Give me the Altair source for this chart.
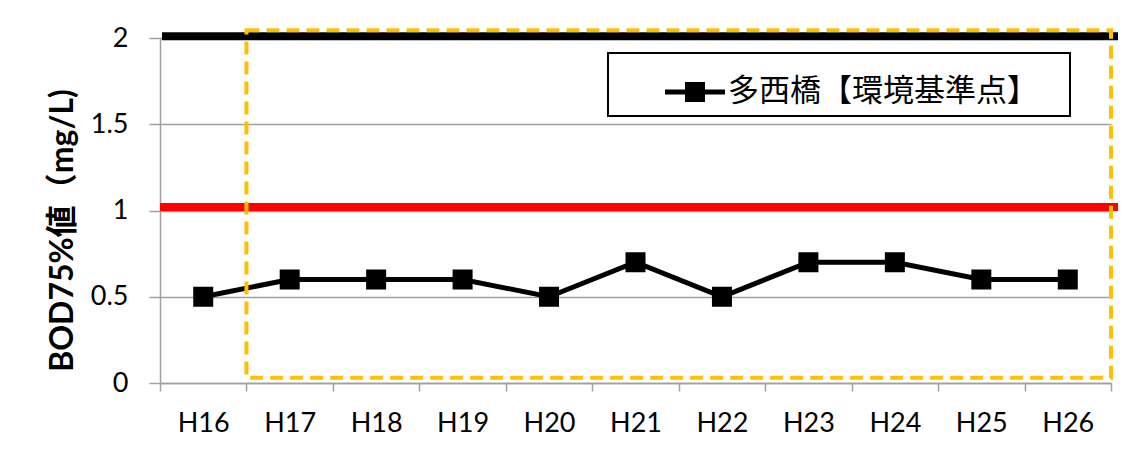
import altair as alt
import pandas as pd

# ---- data ----
years = ["H16", "H17", "H18", "H19", "H20", "H21", "H22", "H23", "H24", "H25", "H26"]
bod = [0.5, 0.6, 0.6, 0.6, 0.5, 0.7, 0.5, 0.7, 0.7, 0.6, 0.6]
series_name = "多西橋【環境基準点】"
y_ticks = [0, 0.5, 1, 1.5, 2]
ref_black = [2.01]
ref_red = [1.02]
# highlighted period box (category index range, value range)
box_x0 = [1]
box_x1 = [11]
box_y0 = [0.03]
box_y1 = [2.045]

df = pd.DataFrame({"year": years, "bod": bod, "series": [series_name] * len(years)})
df_black = pd.DataFrame({"v": ref_black})
df_red = pd.DataFrame({"v": ref_red})
df_box = pd.DataFrame({"x0": box_x0, "x1": box_x1, "y0": box_y0, "y1": box_y1})

W, H = 951, 345
GRAY = "#A0A0A0"
LABEL_FONT = "Lato"
CJK = "Noto Sans CJK JP"

xscale = alt.Scale(type="band", domain=years, paddingInner=0, paddingOuter=0)
yscale = alt.Scale(domain=[0, 2], nice=False)

x_axis = alt.Axis(tickBand="extent", labelAngle=0, tickSize=8, labelPadding=19,
                  grid=False, domainColor=GRAY, tickColor=GRAY, domainWidth=1.5, tickWidth=1.5)
y_enc = alt.Y(
    "bod:Q", scale=yscale,
    axis=alt.Axis(values=y_ticks, format="~g", grid=True, gridColor=GRAY, gridWidth=1.5,
                  tickSize=11, labelPadding=21, domainColor=GRAY, tickColor=GRAY,
                  domainWidth=1.5, tickWidth=1.5,
                  title="BOD75%値（mg/L)", titleFont=LABEL_FONT + ", " + CJK,
                  titleFontSize=32, titleFontWeight="bold", titleColor="black",
                  titleAngle=270, titleX=-98, titleY=192, titleAlign="center",
                  titleBaseline="middle"),
)

line = alt.Chart(df).mark_line(color="black", strokeWidth=5).encode(
    x=alt.X("year:N", scale=xscale, sort=years, title=None, axis=x_axis), y=y_enc
)

points = alt.Chart(df).mark_point(shape="square", filled=True, size=400, opacity=1).encode(
    x=alt.X("year:N", scale=xscale, sort=years, title=None, axis=None),
    y=y_enc,
    color=alt.Color(
        "series:N",
        scale=alt.Scale(domain=[series_name], range=["black"]),
        legend=alt.Legend(
            title=None, orient="none", legendX=448, legendY=15,
            fillColor="white", strokeColor="black", padding=9,
            symbolType="M-1,-0.083H1V0.083H-1Z M-0.333,-0.333H0.333V0.333H-0.333Z",
            symbolSize=3600, symbolStrokeWidth=0, symbolOffset=48, labelOffset=3,
            labelFont=CJK, labelFontSize=31, labelColor="black", labelLimit=600,
            labelExpr="datum.label + '\u2800'",
        ),
    ),
)

black_rule = alt.Chart(df_black).mark_rule(color="black", strokeWidth=8, strokeCap="butt").encode(
    y=alt.Y("v:Q", scale=yscale), x=alt.value(2), x2=alt.value(961)
)
red_rule = alt.Chart(df_red).mark_rule(color="#FF0000", strokeWidth=8, strokeCap="butt").encode(
    y=alt.Y("v:Q", scale=yscale), x=alt.value(0), x2=alt.value(960)
)

box = alt.Chart(df_box).mark_rect(fill="transparent", stroke="#FFC000", strokeWidth=4,
                                  strokeDash=[13, 7]).encode(
    x=alt.X("x0:Q", scale=alt.Scale(domain=[0, 11], nice=False, zero=False), axis=None),
    x2="x1:Q",
    y=alt.Y("y0:Q", scale=yscale),
    y2="y1:Q",
)

chart = alt.layer(red_rule, line, points, black_rule, box).resolve_scale(x="independent").properties(
    width=W, height=H,
    autosize=alt.AutoSizeParams(type="none"),
    padding={"left": 152, "top": 30, "right": 7, "bottom": 66},
).configure_view(stroke="transparent").configure_axis(
    labelFont=LABEL_FONT, labelFontSize=27, labelColor="black",
).configure_legend(strokeWidth=2)

chart.save("out.html", embed_options={"renderer": "svg", "actions": False})
